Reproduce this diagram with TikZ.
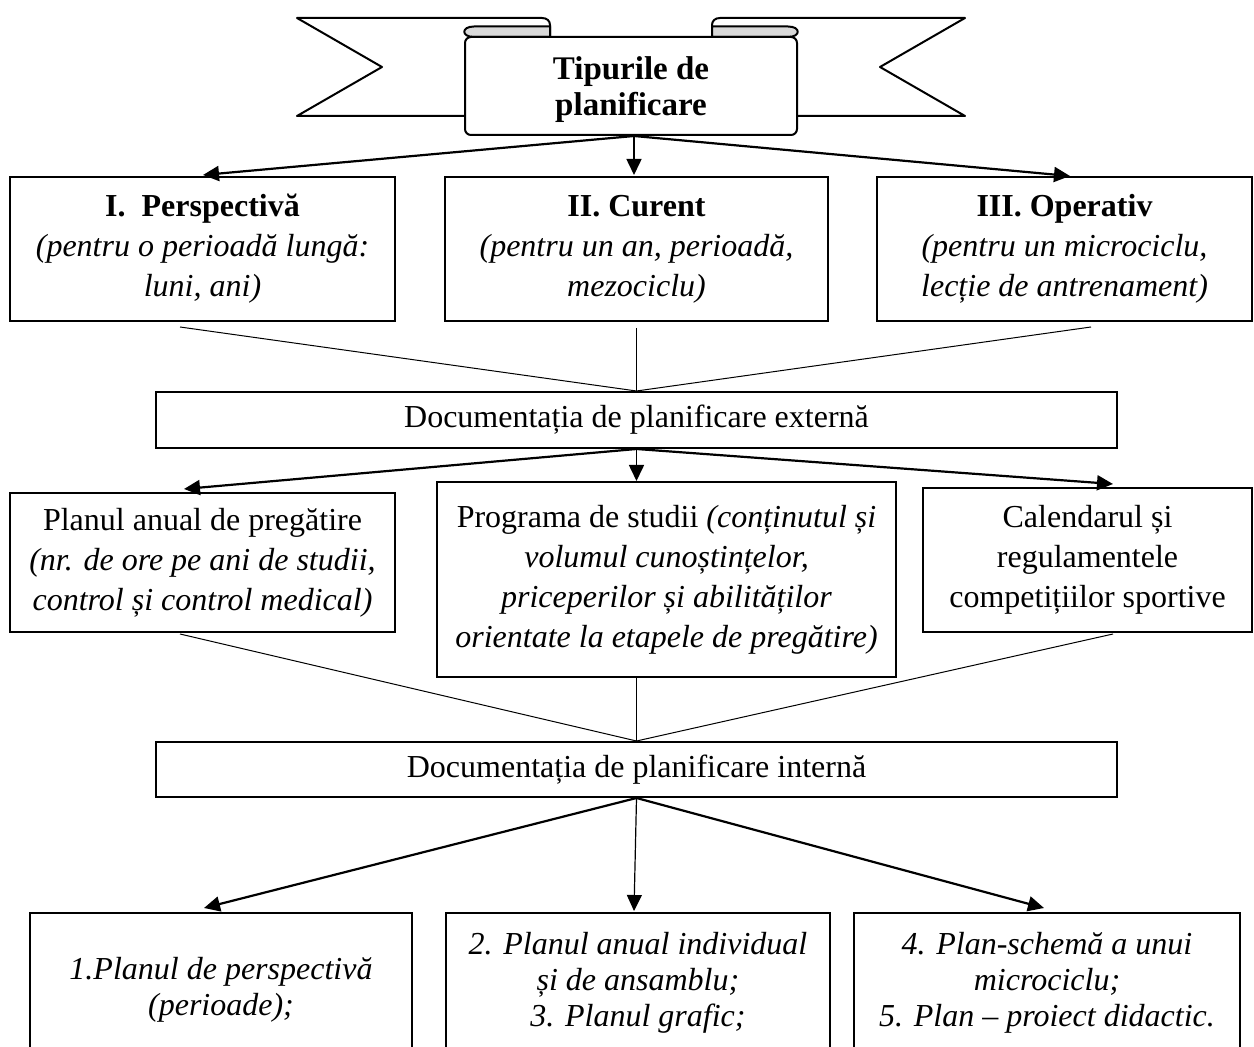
\documentclass[tikz,border=0pt]{standalone}
\usepackage{fontspec}
\setmainfont{Liberation Serif}
\usetikzlibrary{arrows.meta}
\begin{document}
\begin{tikzpicture}[x=0.5pt,y=-0.5pt,
  every node/.style={font=\fontsize{16}{20}\selectfont, align=center, inner sep=0pt},
  box/.style={draw, line width=1pt, fill=white},
  lowbox/.style={box, font=\fontsize{16}{18}\selectfont\itshape},
  thinline/.style={line width=0.5pt},
  bigarrow/.style={line width=1.1pt, -{Triangle[length=8pt,width=7.5pt]}},
  midarrow/.style={line width=0.8pt, -{Triangle[length=8pt,width=7.5pt]}},
  ribbon/.style={draw, line width=1pt, line join=round, fill=white},
  fold/.style={draw, line width=1pt, line join=round, fill=gray!30}]
\useasboundingbox (0,0) rectangle (1254,1047);
\clip (0,0) rectangle (1254,1047);

% ---- title ribbon: tail and rolled fold (left, then mirrored right) ----
\newcommand{\ribbontail}{%
  \draw[ribbon] (297,18) -- (542,18) .. controls (547,18) and (550,21) .. (550,25)
    -- (550,116) -- (297,116) -- (382,67) -- cycle;
  \draw[fold] (550,26.5) -- (474,26.5) .. controls (461,26.5) and (461,37) .. (474,37)
    -- (550,37) -- cycle;}
\ribbontail
\begin{scope}[shift={(1262,0)}, xscale=-1]
  \ribbontail
\end{scope}
% ribbon body
\draw[ribbon, rounded corners=3pt] (465,37) -- (465,135) -- (797,135) -- (797,37) -- cycle;
\node[font=\fontsize{16.5}{18}\selectfont\bfseries] (ban) at (631,90) {Tipurile de\\planificare};
\coordinate (bb) at (634,136);

% ---- types of planning ----
\node[box, minimum width=192.5pt, minimum height=72pt] (p1) at (202.5,249)
  {\textbf{I.\ \ Perspectivă}\\\textit{(pentru o perioadă lungă:}\\\textit{luni, ani)}};
\node[box, minimum width=191.5pt, minimum height=72pt] (p2) at (636.5,249)
  {\textbf{II. Curent}\\\textit{(pentru un an, perioadă,}\\\textit{mezociclu)}};
\node[box, minimum width=187.5pt, minimum height=72pt] (p3) at (1064.5,249)
  {\textbf{III. Operativ}\\\textit{(pentru un microciclu,}\\\textit{lecție de antrenament)}};

% ---- external documentation ----
\node[box, minimum width=480.5pt, minimum height=28pt] (ext) at (636.5,420)
  {Documentația de planificare externă};
\node[box, minimum width=192.5pt, minimum height=69.5pt] (a1) at (202.5,562.5)
  {Planul anual de pregătire\\\textit{(nr. de ore pe ani de studii,}\\\textit{control și control medical)}};
\node[box, minimum width=229.5pt, minimum height=97.5pt] (a2) at (666.5,579.5)
  {Programa de studii \textit{(conținutul și}\\\textit{volumul cunoștințelor,}\\\textit{priceperilor și abilităților}\\\textit{orientate la etapele de pregătire)}};
\node[box, minimum width=164.5pt, minimum height=72pt] (a3) at (1087.5,560)
  {Calendarul și\\regulamentele\\competițiilor sportive};

% ---- internal documentation ----
\node[box, minimum width=480.5pt, minimum height=27.5pt] (int) at (636.5,769.5)
  {Documentația de planificare internă};
\node[lowbox, minimum width=191pt, minimum height=77pt] (b1) at (221,990)
  {1.Planul de perspectivă\\(perioade);};
\node[lowbox, minimum width=192pt, minimum height=70pt] (b2) at (638,983)
  {2. Planul anual individual\\și de ansamblu;\\3. Planul grafic;};
\node[lowbox, minimum width=193pt, minimum height=70pt] (b3) at (1047,983)
  {4. Plan-schemă a unui\\microciclu;\\5. Plan -- proiect didactic.};

% ---- connector end points ----
\coordinate (tp1) at (203,175);
\coordinate (tp2) at (634,175);
\coordinate (tp3) at (1070,176);
\coordinate (s1) at (180,327);
\coordinate (s2) at (636.5,328);
\coordinate (s3) at (1091,327);
\coordinate (e1) at (184,489);
\coordinate (e2) at (636.5,481);
\coordinate (e3) at (1113,484);
\coordinate (u1) at (180,634);
\coordinate (u2) at (636.5,677);
\coordinate (u3) at (1113,634);
\coordinate (d1) at (204,908);
\coordinate (d2) at (634,911);
\coordinate (d3) at (1044,908);

% ---- connectors ----
\draw[bigarrow] (bb) -- (tp1);
\draw[midarrow] (bb) -- (tp2);
\draw[bigarrow] (bb) -- (tp3);

\draw[thinline] (s1) -- (ext.north);
\draw[thinline] (s2) -- (ext.north);
\draw[thinline] (s3) -- (ext.north);

\draw[bigarrow] (ext.south) -- (e1);
\draw[midarrow] (ext.south) -- (e2);
\draw[bigarrow] (ext.south) -- (e3);

\draw[thinline] (u1) -- (int.north);
\draw[thinline] (u2) -- (int.north);
\draw[thinline] (u3) -- (int.north);

\draw[bigarrow] (int.south) -- (d1);
\draw[midarrow, line width=0.6pt] (int.south) -- (d2);
\draw[bigarrow] (int.south) -- (d3);
\end{tikzpicture}
\end{document}
